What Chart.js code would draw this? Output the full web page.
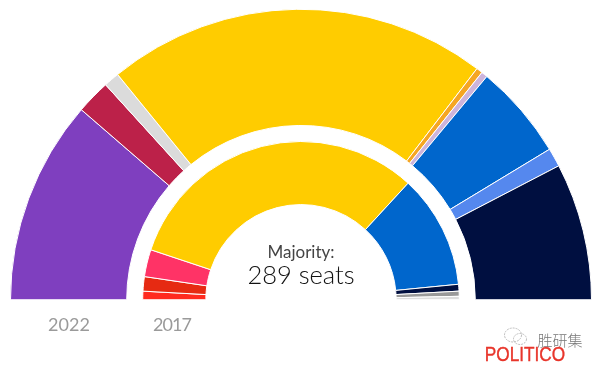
<!DOCTYPE html>
<html><head><meta charset="utf-8">
<script src="https://cdn.jsdelivr.net/npm/chart.js@4"></script>
<style>
html,body{margin:0;padding:0;background:#fff}
#wrap{position:relative;width:601px;height:366px;overflow:hidden}
canvas{position:absolute;left:0;top:0}
.t{position:absolute;white-space:nowrap;transform:translate(-50%,-50%);font-family:Lato,"Open Sans",sans-serif;line-height:1}
svg{position:absolute;left:503px;top:327px}
</style></head><body>
<div id="wrap"><canvas id="c" width="601" height="366"></canvas>
<div class="t" style="left:301px;top:251px;font-size:17px;color:#444">Majority:</div>
<div class="t" style="left:301px;top:275px;font-size:25.5px;font-weight:300;color:#111">289 seats</div>
<div class="t" style="left:69px;top:324px;font-size:18px;color:#9a9a9a">2022</div>
<div class="t" style="left:172px;top:324px;font-size:18px;letter-spacing:-1px;color:#9a9a9a">2017</div>
<svg width="26" height="20" viewBox="0 0 26 20" fill="none" stroke="#bbb" stroke-width="1" stroke-dasharray="2 1"><ellipse cx="10" cy="8" rx="8.5" ry="7"/><ellipse cx="17" cy="12" rx="6.5" ry="5.5"/></svg>
<div class="t" style="left:560px;top:339px;font-size:15px;font-weight:300;color:#777;font-family:'Noto Sans CJK SC'">胜研集</div>
<div class="t" style="left:525px;top:353px;font-size:21px;font-weight:400;color:#E8352B;font-family:'Liberation Sans';transform:translate(-50%,-50%) scaleX(.82);-webkit-text-stroke:.4px #E8352B">POLITICO</div>
</div>
<script>
const ringLabels = ["A","B","C","D","E","F","G","H","I"];
const seats2022 = [131,22,10,245,4,4,61,12,88];
const colors2022 = ["#7F3FBF","#BC2149","#DBDBDB","#FFCC00","#F5A623","#CDB4DB","#0066CC","#5588EE","#000F40"];
const seats2017 = [10,17,32,366,134,8,6,4];
const colors2017 = ["#FF2A1F","#E62A12","#FF3366","#FFCC00","#0066CC","#000F40","#999999","#DDDDDD"];
const totalSeats = [577];
new Chart(document.getElementById("c"),{
  type:"doughnut",
  data:{labels:ringLabels,datasets:[
    {label:"2022",data:seats2022,backgroundColor:colors2022,borderColor:"#fff",borderWidth:1,weight:116},
    {label:"gap",data:totalSeats,backgroundColor:"rgba(0,0,0,0)",borderWidth:0,weight:16},
    {label:"2017",data:seats2017,backgroundColor:colors2017,borderColor:"#fff",borderWidth:1,weight:63}
  ]},
  options:{
    responsive:false,animation:false,
    rotation:-90,circumference:180,radius:290.5,cutout:"32.76%",
    layout:{padding:{left:11,right:10,top:9,bottom:66}},
    plugins:{legend:{display:false},tooltip:{enabled:false}}
  }
});
</script></body></html>
